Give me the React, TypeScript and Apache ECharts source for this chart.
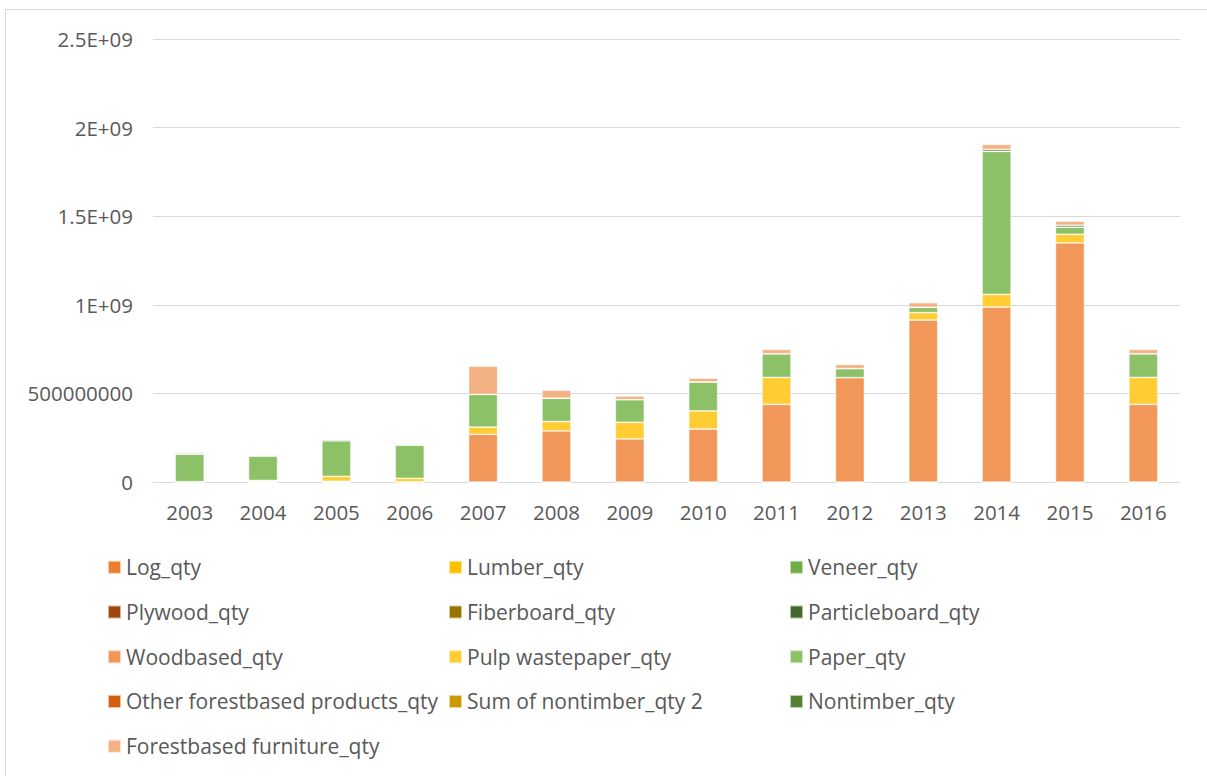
import React, { useEffect, useRef } from "react";
import * as echarts from "echarts";

const years = ["2003","2004","2005","2006","2007","2008","2009","2010","2011","2012","2013","2014","2015","2016"];

const seriesNames = [
  "Log_qty","Lumber_qty","Veneer_qty","Plywood_qty","Fiberboard_qty","Particleboard_qty",
  "Woodbased_qty","Pulp wastepaper_qty","Paper_qty","Other forestbased products_qty",
  "Sum of nontimber_qty 2","Nontimber_qty","Forestbased furniture_qty",
];

const seriesColors = [
  "#ED7D31","#FFC000","#70AD47","#9E480E","#997300","#43682B",
  "#F1975A","#FFCD33","#8CC168","#D26012","#CC9A00","#548235","#F4B183",
];

const logQty = [0,0,0,0,0,0,0,0,0,0,0,0,0,0];
const lumberQty = [0,0,0,0,0,0,0,0,0,0,0,0,0,0];
const veneerQty = [0,0,0,0,0,0,0,0,0,0,0,0,0,0];
const plywoodQty = [0,0,0,0,0,0,0,0,0,0,0,0,0,0];
const fiberboardQty = [0,0,0,0,0,0,0,0,0,0,0,0,0,0];
const particleboardQty = [0,0,0,0,0,0,0,0,0,0,0,0,0,0];
const woodbasedQty = [2e6,3e6,4e6,1e6,269e6,288e6,243e6,299e6,438e6,589e6,914e6,987e6,1349e6,438e6];
const pulpQty = [0,6e6,28e6,20e6,41e6,53e6,94e6,102e6,152e6,0,42e6,72e6,49e6,152e6];
const paperQty = [156e6,137e6,201e6,188e6,184e6,132e6,128e6,164e6,134e6,51e6,30e6,807e6,40e6,134e6];
const otherQty = [0,6e6,0,0,0,0,0,0,0,0,0,0,0,0];
const sumNontimberQty = [0,0,0,0,0,0,0,0,0,0,0,0,0,0];
const nontimberQty = [6e6,0,6e6,0,0,0,0,0,0,0,0,11e6,11e6,0];
const furnitureQty = [5e6,3e6,5e6,5e6,160e6,45e6,20e6,21e6,24e6,23e6,26e6,28e6,23e6,24e6];

const seriesData = [
  logQty, lumberQty, veneerQty, plywoodQty, fiberboardQty, particleboardQty,
  woodbasedQty, pulpQty, paperQty, otherQty, sumNontimberQty, nontimberQty, furnitureQty,
];

const yTickLabels: Record<number, string> = {
  0: "0",
  500000000: "500000000",
  1000000000: "1E+09",
  1500000000: "1.5E+09",
  2000000000: "2E+09",
  2500000000: "2.5E+09",
};

const FONT = "'Open Sans', 'Noto Sans', sans-serif";

export default function App() {
  const ref = useRef<HTMLDivElement>(null);
  useEffect(() => {
    if (!ref.current) return;
    const chart = echarts.init(ref.current, undefined, { renderer: "svg" });
    chart.setOption({
      animation: false,
      backgroundColor: "transparent",
      grid: { left: 153, right: 27, top: 39, bottom: 294, containLabel: false },
      xAxis: {
        type: "category",
        data: years,
        axisLine: { show: true, lineStyle: { color: "#D9D9D9", width: 1 } },
        axisTick: { show: false },
        axisLabel: { color: "#595959", fontSize: 20.5, fontFamily: FONT, margin: 19 },
      },
      yAxis: {
        type: "value",
        min: 0,
        max: 2500000000,
        interval: 500000000,
        axisLine: { show: false },
        axisTick: { show: false },
        splitLine: { lineStyle: { color: "#D9D9D9", width: 1 } },
        axisLabel: {
          color: "#595959",
          fontSize: 20.5,
          fontFamily: FONT,
          margin: 20,
          formatter: (v: number) => yTickLabels[v] ?? String(v),
        },
      },
      legend: {
        show: true,
        left: 107,
        top: 545,
        width: 1040,
        orient: "horizontal",
        itemWidth: 13,
        itemHeight: 13,
        itemGap: 0,
        icon: "rect",
        padding: 0,
        textStyle: {
          color: "#595959",
          fontSize: 21,
          fontFamily: FONT,
          width: 322,
          overflow: "truncate",
          lineHeight: 44.7,
        },
        data: seriesNames,
      },
      series: seriesNames.map((name, i) => ({
        name,
        type: "bar",
        stack: "total",
        barWidth: 29,
        data: seriesData[i],
        itemStyle: {
          color: seriesColors[i],
          borderColor: "rgba(255,255,255,0.6)",
          borderWidth: 0.75,
        },
      })),
    });
    return () => chart.dispose();
  }, []);
  return (
    <>
      <div
        style={{
          position: "fixed",
          left: 5,
          top: 9,
          width: 1230,
          height: 800,
          border: "1px solid #D9D9D9",
          boxSizing: "border-box",
          background: "#fff",
        }}
      />
      <div
        ref={ref}
        style={{ position: "fixed", left: 0, top: 0, width: 1207, height: 776 }}
      />
    </>
  );
}
